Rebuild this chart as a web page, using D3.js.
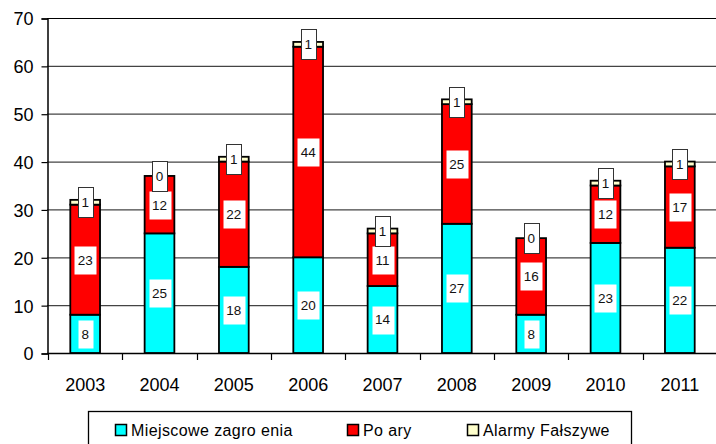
<html>
  <head>
    <title>Interwencje</title>
    <style>
      body { margin: 0; background: #fff; }
      text { font-family: Arial, "Liberation Sans", sans-serif; }
    </style>
  </head>
  <body>
  <script src="https://d3js.org/d3.v7.min.js"></script>
  <script>

// data
var years = ['2003','2004','2005','2006','2007','2008','2009','2010','2011'];
var miejscowe = [8, 25, 18, 20, 14, 27, 8, 23, 22];
var pozary    = [23, 12, 22, 44, 11, 25, 16, 12, 17];
var alarmy    = [1, 0, 1, 1, 1, 1, 0, 1, 1];
var seriesNames = ['Miejscowe zagro enia', 'Po ary', 'Alarmy Fałszywe'];
var seriesKeys = ['m', 'p', 'a'];
var seriesColors = ['#00ffff', '#ff0000', '#ffffcc'];
var yTicks = [0, 10, 20, 30, 40, 50, 60, 70];

var w = 716, h = 444;

var svg = d3.select('body').append('svg')
    .attr('width', w)
    .attr('height', h);

var rows = years.map(function(y, i){
  return {year: y, m: miejscowe[i], p: pozary[i], a: alarmy[i]};
});

var x = d3.scaleBand()
    .domain(years)
    .range([48, 717])
    .paddingInner(0.6)
    .paddingOuter(0.3);

var y = d3.scaleLinear()
    .domain([0, 70])
    .range([353, 18]);

// grid lines
svg.append('g').selectAll('line')
    .data(yTicks.slice(1))
    .enter().append('line')
    .attr('x1', 47).attr('x2', w)
    .attr('y1', function(d){ return y(d) + 0.5; })
    .attr('y2', function(d){ return y(d) + 0.5; })
    .style('stroke', function(d){ return d == 70 ? '#000' : '#444'; })
    .style('stroke-width', 1.2);

// y axis
var yAxis = d3.axisLeft(y).tickValues(yTicks).tickSize(6).tickPadding(8);
var gy = svg.append('g').attr('transform', 'translate(47.5,0.5)').call(yAxis);
gy.select('.domain').style('stroke', '#000').style('stroke-width', 1.5);
gy.selectAll('.tick line').style('stroke', '#000').style('stroke-width', 1.2);
gy.selectAll('.tick text').style('font-size', '18px').style('fill', '#000')
    .attr('x', -14).attr('dy', '0.36em');

// x axis: ticks at band boundaries
var step = x.step();
var xl = d3.scaleLinear().domain([0, years.length]).range([48, 48 + step * years.length]);
svg.append('line')
    .attr('x1', 47).attr('x2', w)
    .attr('y1', y(0) + 0.5).attr('y2', y(0) + 0.5)
    .style('stroke', '#000').style('stroke-width', 1.5);
svg.append('g').selectAll('line')
    .data(d3.range(0, years.length))
    .enter().append('line')
    .attr('x1', function(d){ return Math.round(xl(d)) + 0.5; })
    .attr('x2', function(d){ return Math.round(xl(d)) + 0.5; })
    .attr('y1', y(0)).attr('y2', y(0) + 7)
    .style('stroke', '#000').style('stroke-width', 1.2);
svg.append('g').selectAll('text')
    .data(years)
    .enter().append('text')
    .attr('x', function(d){ return x(d) + x.bandwidth() / 2; })
    .attr('y', 391)
    .attr('text-anchor', 'middle')
    .style('font-size', '18px')
    .text(function(d){ return d; });

// stacked bars
var stack = d3.stack().keys(seriesKeys);
var layers = stack(rows);

var groups = svg.append('g').selectAll('g')
    .data(layers)
    .enter().append('g')
    .style('fill', function(d, i){ return seriesColors[i]; });

groups.selectAll('rect')
    .data(function(d){ return d; })
    .enter().append('rect')
    .attr('x', function(d){ return x(d.data.year); })
    .attr('y', function(d){ return y(d[1]); })
    .attr('width', x.bandwidth())
    .attr('height', function(d){ return y(d[0]) - y(d[1]); })
    .style('stroke', '#000')
    .style('stroke-width', 1.8);

// value labels
layers.forEach(function(layer, li){
  var g = svg.append('g');
  layer.forEach(function(d){
    var v = d[1] - d[0];
    var cx = x(d.data.year) + x.bandwidth() / 2;
    var cy = y((d[0] + d[1]) / 2);
    var txt = String(v);
    var bw = txt.length == 1 ? 15 : 22;
    var bh = li == 2 ? 30 : 28;
    g.append('rect')
        .attr('x', Math.round(cx - bw / 2) + 0.5)
        .attr('y', Math.round(cy - bh / 2) + 0.5)
        .attr('width', bw)
        .attr('height', bh)
        .style('fill', '#fff')
        .style('stroke', li == 2 ? '#333' : 'none')
        .style('stroke-width', 1);
    g.append('text')
        .attr('x', cx)
        .attr('y', cy)
        .attr('dy', '0.36em')
        .attr('text-anchor', 'middle')
        .style('font-size', '13.5px')
        .style('fill', '#111')
        .text(txt);
  });
});

// legend
var legend = svg.append('g');
legend.append('rect')
    .attr('x', 88.5).attr('y', 411.5)
    .attr('width', 543).attr('height', 60)
    .style('fill', '#fff')
    .style('stroke', '#000')
    .style('stroke-width', 1.3);
var legendX = [115, 347, 467];
seriesNames.forEach(function(name, i){
  legend.append('rect')
      .attr('x', legendX[i] + 0.5).attr('y', 424.5)
      .attr('width', 11).attr('height', 11)
      .style('fill', seriesColors[i])
      .style('stroke', '#000')
      .style('stroke-width', 1.5);
  legend.append('text')
      .attr('x', legendX[i] + 16)
      .attr('y', 436)
      .style('font-size', '16px')
      .style('letter-spacing', '0.4px')
      .text(name);
});

  </script>
  </body>
</html>
